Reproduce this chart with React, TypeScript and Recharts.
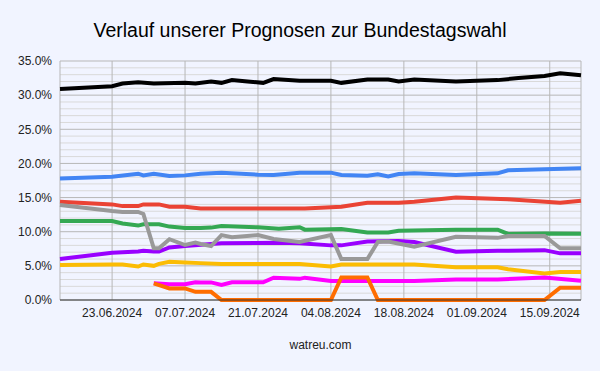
import React from "react";
import { LineChart, Line, XAxis, YAxis, CartesianGrid } from "recharts";

const dates = [
  "13.06.2024", "23.06.2024", "25.06.2024", "28.06.2024", "29.06.2024", "01.07.2024", "02.07.2024",
  "04.07.2024", "07.07.2024", "09.07.2024", "10.07.2024", "12.07.2024", "14.07.2024", "16.07.2024",
  "19.07.2024", "21.07.2024", "22.07.2024", "24.07.2024", "25.07.2024", "29.07.2024", "30.07.2024",
  "04.08.2024", "06.08.2024", "11.08.2024", "13.08.2024", "15.08.2024", "17.08.2024", "20.08.2024",
  "28.08.2024", "05.09.2024", "07.09.2024", "09.09.2024", "14.09.2024", "17.09.2024", "21.09.2024",
];

const black = [30.9, 31.3, 31.7, 31.9, null, 31.7, null, null, 31.8, 31.7, null, 32.0, 31.8, 32.2, 32.0, null, 31.8, 32.35, null, 32.1, null, 32.1, 31.8, 32.3, 32.3, 32.3, 32.0, 32.3, 32.0, 32.2, null, 32.5, 32.8, 33.2, 32.9];
const blue = [17.8, 18.05, null, 18.5, 18.25, 18.5, null, 18.15, 18.25, null, 18.5, null, 18.65, null, null, 18.35, null, 18.3, null, 18.65, null, 18.65, 18.3, 18.2, 18.4, 18.1, 18.45, 18.55, 18.3, 18.55, 19.0, null, null, null, 19.3];
const red = [14.4, 14.0, 13.75, 13.75, 14.0, null, 14.0, 13.67, 13.67, null, 13.4, null, null, null, null, null, null, null, null, null, 13.4, null, 13.67, 14.25, null, null, 14.25, 14.4, 15.0, null, 14.75, null, null, 14.25, 14.55];
const green = [11.57, 11.57, 11.2, 10.9, 11.1, null, 11.1, 10.75, 10.55, null, 10.55, 10.6, 10.85, null, null, 10.65, null, null, 10.45, 10.65, 10.3, null, 10.4, 9.9, null, 9.9, 10.15, null, 10.3, 10.3, 9.67, null, 9.75, null, 9.7];
const gray = [13.9, 13.03, 12.9, 12.9, 12.6, 7.57, 7.57, 8.9, 8.05, 8.4, 8.2, 7.9, 9.5, 9.2, null, 9.5, null, 8.93, null, 8.5, null, 9.5, 6.0, 6.0, 8.5, 8.55, null, 7.8, 9.27, 9.1, 9.37, null, 9.37, 7.57, 7.57];
const purple = [6.0, 6.93, null, 7.1, 7.2, 7.1, 7.1, 7.7, 7.9, null, null, 8.2, 8.3, null, null, null, null, null, 8.4, 8.3, null, 8.0, 8.0, 8.55, null, null, 8.65, 8.5, 7.07, 7.2, null, null, 7.3, 6.83, 6.83];
const yellow = [5.12, 5.2, 5.2, 4.9, 5.2, 5.0, 5.3, 5.6, 5.5, null, 5.4, null, 5.27, null, null, null, null, null, 5.27, 5.27, null, 4.9, 5.2, null, null, null, 5.2, 5.2, 4.78, 4.78, 4.5, null, 3.9, 4.1, 4.1];
const magenta = [null, null, null, null, null, 2.44, null, 2.3, 2.3, 2.6, 2.58, 2.58, 2.2, 2.6, null, null, 2.6, 3.27, null, 3.1, 3.27, 2.78, null, null, null, null, null, 2.78, 3.0, 3.0, null, null, 3.3, null, 2.83];
const orange = [null, null, null, null, null, 2.44, null, 1.7, 1.7, 1.2, null, 1.2, 0, null, null, null, null, null, null, null, null, 0, 3.3, 3.3, 0, null, null, null, null, null, null, null, 0, 1.8, 1.8];

const xTickLabels = ["23.06.2024", "07.07.2024", "21.07.2024", "04.08.2024", "18.08.2024", "01.09.2024", "15.09.2024"];
const xDomainLabels = ["13.06.2024", "21.09.2024"];
const yTicks = [0, 5, 10, 15, 20, 25, 30, 35];
const yMinor = [1, 2, 3, 4, 6, 7, 8, 9, 11, 12, 13, 14, 16, 17, 18, 19, 21, 22, 23, 24, 26, 27, 28, 29, 31, 32, 33, 34];

const parseDate = (s: string) => {
  const [d, m, y] = s.split(".").map(Number);
  return Date.UTC(y, m - 1, d);
};
const fmtDate = (t: number) => {
  const dt = new Date(t);
  const dd = String(dt.getUTCDate()).padStart(2, "0");
  const mm = String(dt.getUTCMonth() + 1).padStart(2, "0");
  return `${dd}.${mm}.${dt.getUTCFullYear()}`;
};

const data = dates.map((d, i) => ({
  t: parseDate(d),
  black: black[i],
  blue: blue[i],
  red: red[i],
  green: green[i],
  gray: gray[i],
  purple: purple[i],
  yellow: yellow[i],
  magenta: magenta[i],
  orange: orange[i],
}));

const series: [string, string][] = [
  ["black", "#000000"],
  ["blue", "#4285f4"],
  ["red", "#ea4335"],
  ["green", "#34a853"],
  ["purple", "#9900ff"],
  ["yellow", "#fbbc04"],
  ["magenta", "#ff00ff"],
  ["gray", "#999999"],
  ["orange", "#ff6d01"],
];

const FONT = "'Liberation Sans', Arial, sans-serif";
const BG = "#f1f4ff";

export default function App() {
  return (
    <div style={{ position: "absolute", left: 0, top: 0, width: 600, height: 371, background: BG, fontFamily: FONT }}>
      <div style={{ position: "absolute", left: 0, top: 18, width: 600, height: 24, lineHeight: "24px", textAlign: "center", fontSize: 19.5, color: "#000" }}>
        Verlauf unserer Prognosen zur Bundestagswahl
      </div>
      <LineChart width={600} height={371} data={data} margin={{ top: 61, right: 19, bottom: 41, left: 0 }}>
        <CartesianGrid horizontalValues={yMinor} vertical={false} stroke="#d9d9d9" strokeWidth={1} />
        <CartesianGrid stroke="#b7b7b7" strokeWidth={1} />
        <XAxis
          dataKey="t"
          type="number"
          domain={xDomainLabels.map(parseDate)}
          ticks={xTickLabels.map(parseDate)}
          tickFormatter={fmtDate}
          tickLine={false}
          axisLine={{ stroke: "#333333", strokeWidth: 1 }}
          tick={{ fontSize: 12, fill: "#222222", fontFamily: FONT }}
          height={30}
          interval={0}
        />
        <YAxis
          domain={[0, 35]}
          ticks={yTicks}
          tickFormatter={(v: number) => `${v.toFixed(1)}%`}
          tickLine={false}
          axisLine={false}
          tick={{ fontSize: 12, fill: "#222222", fontFamily: FONT }}
          width={60}
          interval={0}
        />
        {series.map(([key, color]) => (
          <Line
            key={key}
            dataKey={key}
            stroke={color}
            strokeWidth={4}
            dot={false}
            connectNulls
            isAnimationActive={false}
            type="linear"
          />
        ))}
      </LineChart>
      <div style={{ position: "absolute", left: 60, top: 337, width: 521, textAlign: "center", fontSize: 12, color: "#222", lineHeight: "16px" }}>
        watreu.com
      </div>
    </div>
  );
}
